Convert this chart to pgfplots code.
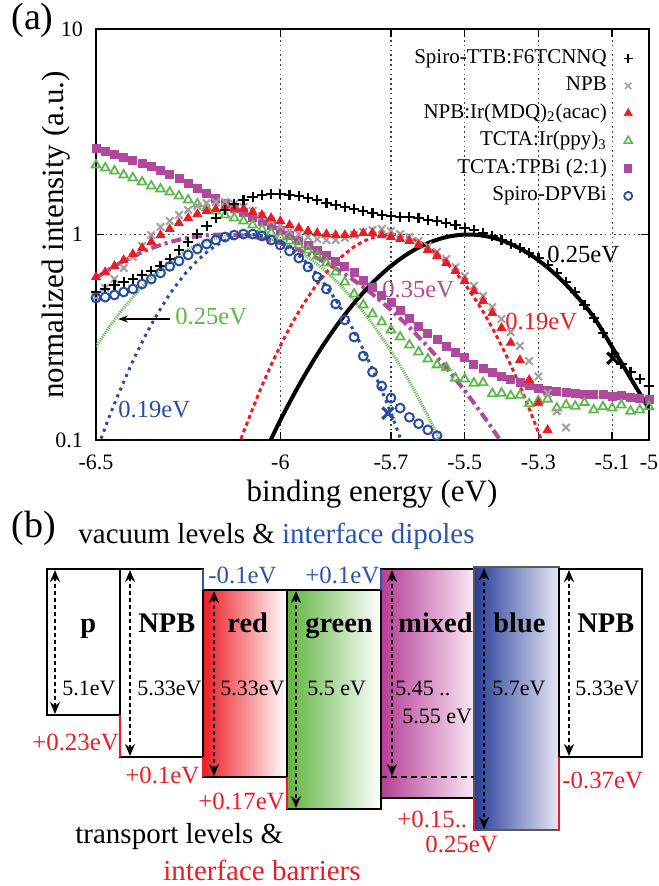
\documentclass[border=0pt]{standalone}
\usepackage{fontspec}
\setmainfont{Liberation Serif}
\usepackage{pgfplots}
\pgfplotsset{compat=1.18}
\usetikzlibrary{arrows.meta}
\definecolor{cred}{RGB}{237,28,36}
\definecolor{cgreen}{RGB}{92,184,72}
\definecolor{cpurple}{RGB}{176,72,158}
\definecolor{cblue}{RGB}{40,76,160}
\definecolor{cgray}{RGB}{160,160,160}
\definecolor{ctblue}{RGB}{43,85,170}
\definecolor{bgreen}{RGB}{96,180,64}
\definecolor{bpurple}{RGB}{180,62,150}
\definecolor{bpurpleR}{RGB}{250,232,245}
\definecolor{bblue}{RGB}{38,60,150}
\definecolor{bblueR}{RGB}{232,232,246}
\newcommand{\fs}[1]{\fontsize{#1}{#1}\selectfont}
\begin{document}
\begin{tikzpicture}
\useasboundingbox (0,0) rectangle (329pt,443pt);
\begin{axis}[
  at={(48pt,223pt)}, anchor=south west,
  scale only axis, width=276.5pt, height=205.5pt,
  xmin=-6.5, xmax=-5, ymin=0.1, ymax=10, ymode=log,
  xtick={-6.5,-6,-5.7,-5.5,-5.3,-5.1,-5},
  xticklabels={-6.5,-6,-5.7,-5.5,-5.3,-5.1,-5},
  ytick={0.1,1,10}, yticklabels={0.1,1,10},
  yminorticks=false,
  tick label style={font=\fs{11}},
  xticklabel style={yshift=-4pt},
  yticklabel style={xshift=-3pt},
  axis line style={line width=1.2pt},
  major tick style={line width=0.8pt, black},
  tick align=inside, major tick length=4pt,
  grid=major, major grid style={dash pattern=on 0.8pt off 1.6pt, line width=0.6pt, black!75},
  legend style={draw=none, fill=none, at={(1,1)}, anchor=north east, xshift=-8pt, yshift=-9pt,
    inner sep=0pt, font=\fs{10.5}, row sep=2.75pt, column sep=8pt,
    nodes={inner sep=0.5pt, text height=7.5pt, text depth=2.5pt}},
  legend cell align=right, legend plot pos=right,
  legend image code/.code={\draw[#1] plot coordinates {(0.25cm,0cm)};},
]
% purple data
\addplot[only marks, mark=square*, mark size=2pt, cpurple, forget plot] coordinates {
(-6.5,2.636)(-6.475,2.549)(-6.45,2.465)(-6.425,2.383)(-6.4,2.304)(-6.375,2.228)(-6.35,2.154)(-6.325,2.060)(-6.3,1.970)(-6.275,1.884)(-6.25,1.781)(-6.225,1.684)(-6.2,1.592)(-6.175,1.505)(-6.15,1.423)(-6.125,1.346)(-6.1,1.287)(-6.075,1.217)(-6.05,1.163)(-6.025,1.112)(-6.0,1.052)(-5.975,0.994)(-5.95,0.940)(-5.925,0.889)(-5.9,0.841)(-5.875,0.795)(-5.85,0.743)(-5.825,0.700)(-5.8,0.653)(-5.775,0.600)(-5.75,0.555)(-5.725,0.508)(-5.7,0.467)(-5.675,0.427)(-5.65,0.392)(-5.625,0.359)(-5.6,0.332)(-5.575,0.307)(-5.55,0.287)(-5.525,0.268)(-5.5,0.251)(-5.475,0.234)(-5.45,0.224)(-5.425,0.214)(-5.4,0.205)(-5.375,0.198)(-5.35,0.1915)(-5.325,0.185)(-5.3,0.179)(-5.275,0.175)(-5.25,0.173)(-5.225,0.171)(-5.2,0.169)(-5.175,0.1675)(-5.15,0.166)(-5.125,0.166)(-5.1,0.1637)(-5.075,0.164)(-5.05,0.162)(-5.025,0.160)(-5.0,0.158)};
% green data
\addplot[only marks, mark=triangle, mark size=2.5pt, line width=0.9pt, cgreen, forget plot] coordinates {
(-6.5,2.179)(-6.475,2.106)(-6.45,2.037)(-6.425,1.948)(-6.4,1.885)(-6.375,1.801)(-6.35,1.722)(-6.325,1.664)(-6.3,1.608)(-6.275,1.539)(-6.25,1.472)(-6.225,1.407)(-6.2,1.346)(-6.175,1.301)(-6.15,1.244)(-6.125,1.203)(-6.1,1.163)(-6.075,1.112)(-6.05,1.063)(-6.025,1.017)(-6.0,0.972)(-5.975,0.930)(-5.95,0.889)(-5.925,0.841)(-5.9,0.786)(-5.875,0.727)(-5.85,0.657)(-5.825,0.587)(-5.8,0.513)(-5.775,0.454)(-5.75,0.410)(-5.725,0.375)(-5.7,0.343)(-5.675,0.317)(-5.65,0.290)(-5.625,0.268)(-5.6,0.248)(-5.575,0.232)(-5.55,0.225)(-5.525,0.200)(-5.5,0.198)(-5.475,0.189)(-5.45,0.190)(-5.425,0.168)(-5.4,0.169)(-5.375,0.164)(-5.35,0.165)(-5.325,0.150)(-5.3,0.155)(-5.275,0.158)(-5.25,0.143)(-5.225,0.148)(-5.2,0.146)(-5.175,0.152)(-5.15,0.140)(-5.125,0.145)(-5.1,0.143)(-5.075,0.148)(-5.05,0.138)(-5.025,0.140)(-5.0,0.145)};
% gray data
\addplot[only marks, mark=x, mark size=2.6pt, line width=1pt, cgray, forget plot] coordinates {
(-6.5,0.497)(-6.475,0.549)(-6.45,0.607)(-6.425,0.687)(-6.4,0.777)(-6.375,0.879)(-6.35,0.994)(-6.325,1.087)(-6.3,1.163)(-6.275,1.244)(-6.25,1.316)(-6.225,1.376)(-6.2,1.423)(-6.175,1.439)(-6.15,1.439)(-6.125,1.407)(-6.1,1.361)(-6.075,1.301)(-6.05,1.230)(-6.025,1.163)(-6.0,1.10)(-5.975,1.040)(-5.95,1.005)(-5.925,0.972)(-5.9,0.951)(-5.875,0.940)(-5.85,0.940)(-5.825,0.962)(-5.8,0.994)(-5.775,1.028)(-5.75,1.052)(-5.725,1.063)(-5.7,1.040)(-5.675,1.005)(-5.65,0.972)(-5.625,0.930)(-5.6,0.879)(-5.575,0.824)(-5.55,0.760)(-5.525,0.694)(-5.5,0.628)(-5.475,0.562)(-5.45,0.502)(-5.425,0.443)(-5.4,0.388)(-5.375,0.335)(-5.35,0.287)(-5.325,0.242)(-5.3,0.204)(-5.275,0.169)(-5.25,0.138)(-5.225,0.115)(-5.2,0.098)};
% red data
\addplot[only marks, mark=triangle*, mark size=2.5pt, cred, forget plot] coordinates {
(-6.5,0.621)(-6.475,0.656)(-6.45,0.703)(-6.425,0.751)(-6.4,0.803)(-6.375,0.860)(-6.35,0.920)(-6.325,0.994)(-6.3,1.063)(-6.275,1.137)(-6.25,1.203)(-6.225,1.258)(-6.2,1.301)(-6.175,1.331)(-6.15,1.346)(-6.125,1.346)(-6.1,1.331)(-6.075,1.287)(-6.05,1.244)(-6.025,1.203)(-6.0,1.163)(-5.975,1.112)(-5.95,1.075)(-5.925,1.040)(-5.9,1.017)(-5.875,1.005)(-5.85,0.994)(-5.825,0.994)(-5.8,1.005)(-5.775,1.017)(-5.75,1.017)(-5.725,0.994)(-5.7,0.972)(-5.675,0.951)(-5.65,0.930)(-5.625,0.889)(-5.6,0.841)(-5.575,0.786)(-5.55,0.727)(-5.525,0.665)(-5.5,0.594)(-5.475,0.531)(-5.45,0.474)(-5.425,0.415)(-5.4,0.351)(-5.375,0.297)(-5.35,0.245)(-5.325,0.196)(-5.3,0.151)(-5.275,0.112)};
% black data
\addplot[only marks, mark=+, mark size=2.6pt, line width=1.1pt, black, forget plot] coordinates {
(-6.5,0.525)(-6.475,0.543)(-6.45,0.568)(-6.425,0.587)(-6.4,0.607)(-6.375,0.635)(-6.35,0.665)(-6.325,0.703)(-6.3,0.760)(-6.275,0.841)(-6.25,0.920)(-6.225,1.005)(-6.2,1.10)(-6.175,1.203)(-6.15,1.316)(-6.125,1.407)(-6.1,1.472)(-6.075,1.522)(-6.05,1.556)(-6.025,1.574)(-6.0,1.574)(-5.975,1.556)(-5.95,1.539)(-5.925,1.505)(-5.9,1.472)(-5.875,1.423)(-5.85,1.392)(-5.825,1.361)(-5.8,1.331)(-5.775,1.301)(-5.75,1.272)(-5.725,1.244)(-5.7,1.230)(-5.675,1.216)(-5.65,1.216)(-5.625,1.203)(-5.6,1.176)(-5.575,1.163)(-5.55,1.137)(-5.525,1.112)(-5.5,1.075)(-5.475,1.052)(-5.45,1.017)(-5.425,0.983)(-5.4,0.940)(-5.375,0.899)(-5.35,0.860)(-5.325,0.813)(-5.3,0.769)(-5.275,0.711)(-5.25,0.648)(-5.225,0.587)(-5.2,0.525)(-5.175,0.454)(-5.15,0.392)(-5.125,0.331)(-5.1,0.262)(-5.075,0.234)(-5.05,0.214)(-5.025,0.198)(-5.0,0.183)};
% blue data
\addplot[only marks, mark=o, mark size=2.2pt, line width=1pt, cblue, forget plot] coordinates {
(-6.5,0.491)(-6.475,0.496)(-6.45,0.508)(-6.425,0.525)(-6.4,0.543)(-6.375,0.574)(-6.35,0.607)(-6.325,0.650)(-6.3,0.700)(-6.275,0.743)(-6.25,0.795)(-6.225,0.850)(-6.2,0.899)(-6.175,0.940)(-6.15,0.972)(-6.125,0.994)(-6.1,1.005)(-6.075,1.005)(-6.05,0.983)(-6.025,0.940)(-6.0,0.889)(-5.975,0.831)(-5.95,0.768)(-5.925,0.695)(-5.9,0.621)(-5.875,0.543)(-5.85,0.459)(-5.825,0.384)(-5.8,0.317)(-5.775,0.256)(-5.75,0.214)(-5.725,0.183)(-5.7,0.160)(-5.675,0.143)(-5.65,0.129)(-5.625,0.120)(-5.6,0.112)(-5.575,0.105)};
% fits
\addplot[cgreen, line width=1.5pt, dash pattern=on 0.5pt off 0.6pt, smooth, forget plot] coordinates {
(-6.5,0.285)(-6.45,0.3837)(-6.4,0.496)(-6.35,0.616)(-6.3,0.7354)(-6.25,0.8432)(-6.2,0.929)(-6.15,0.983)(-6.1,1.0)(-6.05,0.977)(-6.0,0.917)(-5.95,0.8272)(-5.9,0.7168)(-5.85,0.5969)(-5.8,0.4775)(-5.75,0.367)(-5.7,0.271)(-5.65,0.1923)(-5.6,0.131)(-5.55,0.0858)};
\addplot[cpurple, line width=2pt, dash pattern=on 5pt off 2pt on 1.5pt off 2pt, smooth, forget plot] coordinates {
(-6.5,0.6152)(-6.45,0.701)(-6.4,0.7827)(-6.35,0.8563)(-6.3,0.9178)(-6.25,0.9638)(-6.2,0.9918)(-6.15,1.0)(-6.1,0.9877)(-6.05,0.956)(-6.0,0.9066)(-5.95,0.8424)(-5.9,0.7669)(-5.85,0.684)(-5.8,0.5979)(-5.75,0.512)(-5.7,0.4296)(-5.65,0.3531)(-5.6,0.2845)(-5.55,0.2245)(-5.5,0.1736)(-5.45,0.1315)(-5.4,0.0976)};
\addplot[cblue, line width=1.5pt, dash pattern=on 1.5pt off 2.2pt, smooth, forget plot] coordinates {
(-6.5,0.0869)(-6.48,0.109)(-6.45,0.150)(-6.4,0.242)(-6.35,0.3643)(-6.3,0.5116)(-6.25,0.670)(-6.2,0.8192)(-6.15,0.9344)(-6.1,0.9945)(-6.08,1.0)(-6.05,0.9876)(-6.0,0.9152)(-5.95,0.7913)(-5.9,0.6384)(-5.85,0.4806)(-5.8,0.3376)(-5.75,0.2213)(-5.7,0.1353)(-5.65,0.0772)};
\addplot[cred, line width=1.5pt, dash pattern=on 2pt off 1.6pt, smooth, forget plot] coordinates {
(-6.12,0.0869)(-6.1,0.109)(-6.05,0.1833)(-6.0,0.2875)(-5.95,0.4208)(-5.9,0.5747)(-5.85,0.7323)(-5.8,0.8707)(-5.75,0.966)(-5.7,1.0)(-5.65,0.966)(-5.6,0.8707)(-5.55,0.7323)(-5.5,0.5747)(-5.45,0.4208)(-5.4,0.2875)(-5.35,0.1833)(-5.3,0.109)(-5.28,0.0869)};
\addplot[black, line width=2pt, smooth, forget plot] coordinates {
(-6.05,0.0814)(-6.0,0.1248)(-5.95,0.184)(-5.9,0.2606)(-5.85,0.3546)(-5.8,0.4636)(-5.75,0.5822)(-5.7,0.7026)(-5.65,0.8147)(-5.6,0.9077)(-5.55,0.9716)(-5.5,0.9992)(-5.45,0.9873)(-5.4,0.9373)(-5.35,0.8549)(-5.3,0.7492)(-5.25,0.6308)(-5.2,0.5103)(-5.15,0.3966)(-5.1,0.283)(-5.05,0.200)(-5.0,0.142)};
% onset markers
\addplot[only marks, mark=x, mark size=4pt, line width=1.6pt, black, forget plot] coordinates {(-5.098,0.25)};
\addplot[only marks, mark=x, mark size=4pt, line width=1.6pt, cblue, forget plot] coordinates {(-5.708,0.135)};
% legend
\addlegendimage{only marks, mark=+, mark size=2.2pt, line width=0.8pt, black}
\addlegendentry{Spiro-TTB:F6TCNNQ}
\addlegendimage{only marks, mark=x, mark size=2.2pt, line width=0.8pt, cgray}
\addlegendentry{NPB}
\addlegendimage{only marks, mark=triangle*, mark size=2.3pt, cred}
\addlegendentry{NPB:Ir(MDQ)\textsubscript{2}(acac)}
\addlegendimage{only marks, mark=triangle, mark size=2.3pt, line width=0.8pt, cgreen}
\addlegendentry{TCTA:Ir(ppy)\textsubscript{3}}
\addlegendimage{only marks, mark=square*, mark size=1.8pt, cpurple}
\addlegendentry{TCTA:TPBi (2:1)}
\addlegendimage{only marks, mark=o, mark size=2pt, line width=0.9pt, cblue}
\addlegendentry{Spiro-DPVBi}
\end{axis}
% canvas in pixel coordinates
\begin{axis}[at={(0pt,0pt)}, anchor=south west, scale only axis, width=329pt, height=443pt,
  xmin=0, xmax=658, ymin=0, ymax=886, y dir=reverse, hide axis, clip=false]
% part (a) annotations
\node[anchor=base west, inner sep=0] at (axis cs:11,30) {\fs{19}(a)};
\node[anchor=base, rotate=90, inner sep=0] at (axis cs:63,235) {\fs{15.5}normalized intensity (a.u.)};
\node[anchor=base, inner sep=0] at (axis cs:372,501) {\fs{15.5}binding energy (eV)};
\node[anchor=base west, inner sep=0] at (axis cs:547,263) {\fs{12.3}0.25eV};
\node[anchor=base west, inner sep=0, text=cpurple] at (axis cs:382,298) {\fs{12.3}0.35eV};
\node[anchor=base west, inner sep=0, text=cred] at (axis cs:505,330) {\fs{12.3}0.19eV};
\node[anchor=base west, inner sep=0, text=cblue] at (axis cs:118,417) {\fs{12.3}0.19eV};
\node[anchor=base west, inner sep=0, text=cgreen] at (axis cs:175,325) {\fs{12.3}0.25eV};
\addplot[black, line width=0.8pt, -{Stealth[length=5pt,width=3.5pt]}] coordinates {(170,319)(118,319)};
% part (b)
\node[anchor=base west, inner sep=0] at (axis cs:11,537) {\fs{19}(b)};
\node[anchor=base west, inner sep=0] at (axis cs:78,543) {\fs{14.5}vacuum levels \& \textcolor{ctblue}{interface dipoles}};
\node[anchor=base west, inner sep=0] at (axis cs:75,843) {\fs{14.5}transport levels \&};
\node[anchor=base west, inner sep=0, text=cred] at (axis cs:163,880) {\fs{14.5}interface barriers};
% boxes
\addplot[draw=black, line width=1pt, fill=white] coordinates {(47,569)(120,569)(120,715)(47,715)} -- cycle;
\addplot[draw=black, line width=1pt, fill=white] coordinates {(120,569)(203,569)(203,757)(120,757)} -- cycle;
\addplot[draw=black, line width=1pt, left color=cred, right color=white] coordinates {(203,590)(287,590)(287,777)(203,777)} -- cycle;
\addplot[draw=black, line width=1pt, left color=bgreen, right color=white] coordinates {(287,590)(381,590)(381,809)(287,809)} -- cycle;
\addplot[draw=black, line width=1pt, left color=bpurple, right color=bpurpleR] coordinates {(381,569)(474,569)(474,798)(381,798)} -- cycle;
\addplot[draw=black!65, line width=1pt, left color=bblue, right color=bblueR] coordinates {(474,567)(559,567)(559,830)(474,830)} -- cycle;
\addplot[draw=black, line width=1pt, fill=white] coordinates {(559,569)(642,569)(642,757)(559,757)} -- cycle;
% barriers and dipoles
\addplot[cred, line width=1pt] coordinates {(120,715)(120,757)};
\addplot[cred, line width=1pt] coordinates {(203,757)(203,777)};
\addplot[cred, line width=1pt] coordinates {(287,777)(287,809)};
\addplot[cred, line width=1pt] coordinates {(474,798)(474,830)};
\addplot[cred, line width=1pt] coordinates {(559,757)(559,830)};
\addplot[ctblue, line width=1pt] coordinates {(203,569)(203,590)};
\addplot[ctblue, line width=1pt] coordinates {(381,569)(381,590)};
% dashed arrows
\pgfplotsset{darrow/.style={black, line width=0.9pt, dash pattern=on 2pt off 1.5pt, {Stealth[length=6pt,width=5pt]}-{Stealth[length=6pt,width=5pt]}}}
\addplot[darrow] coordinates {(55,570)(55,714)};
\addplot[darrow] coordinates {(130,570)(130,756)};
\addplot[darrow] coordinates {(214,591)(214,776)};
\addplot[darrow] coordinates {(296,591)(296,808)};
\addplot[darrow] coordinates {(392,570)(392,776)};
\addplot[darrow, line width=1.3pt] coordinates {(484,568)(484,829)};
\addplot[darrow] coordinates {(569,570)(569,756)};
\addplot[black, line width=0.9pt, dash pattern=on 3pt off 2pt] coordinates {(381,777)(474,777)};
% box labels
\node[anchor=base west, inner sep=0] at (axis cs:80,632) {\fs{14.2}\bfseries p};
\node[anchor=base west, inner sep=0] at (axis cs:138,632) {\fs{14.2}\bfseries NPB};
\node[anchor=base west, inner sep=0] at (axis cs:227,632) {\fs{14.2}\bfseries red};
\node[anchor=base west, inner sep=0] at (axis cs:305,632) {\fs{14.2}\bfseries green};
\node[anchor=base west, inner sep=0] at (axis cs:398,632) {\fs{14.2}\bfseries mixed};
\node[anchor=base west, inner sep=0] at (axis cs:493,632) {\fs{14.2}\bfseries blue};
\node[anchor=base west, inner sep=0] at (axis cs:577,632) {\fs{14.2}\bfseries NPB};
% energies
\node[anchor=base west, inner sep=0] at (axis cs:62,695) {\fs{11}5.1eV};
\node[anchor=base west, inner sep=0] at (axis cs:137,695) {\fs{11}5.33eV};
\node[anchor=base west, inner sep=0] at (axis cs:220,695) {\fs{11}5.33eV};
\node[anchor=base west, inner sep=0] at (axis cs:307,695) {\fs{11}5.5 eV};
\node[anchor=base west, inner sep=0] at (axis cs:395,695) {\fs{11}5.45 ..};
\node[anchor=base west, inner sep=0] at (axis cs:402,723) {\fs{11}5.55 eV};
\node[anchor=base west, inner sep=0] at (axis cs:492,695) {\fs{11}5.7eV};
\node[anchor=base west, inner sep=0] at (axis cs:575,695) {\fs{11}5.33eV};
% offsets
\node[anchor=base west, inner sep=0, text=ctblue] at (axis cs:208,583) {\fs{12.4}-0.1eV};
\node[anchor=base west, inner sep=0, text=ctblue] at (axis cs:305,583) {\fs{12.4}+0.1eV};
\node[anchor=base west, inner sep=0, text=cred] at (axis cs:32,750) {\fs{12.4}+0.23eV};
\node[anchor=base west, inner sep=0, text=cred] at (axis cs:125,783) {\fs{12.4}+0.1eV};
\node[anchor=base west, inner sep=0, text=cred] at (axis cs:198,809) {\fs{12.4}+0.17eV};
\node[anchor=base west, inner sep=0, text=cred] at (axis cs:397,827) {\fs{12.4}+0.15..};
\node[anchor=base west, inner sep=0, text=cred] at (axis cs:425,852) {\fs{12.4}0.25eV};
\node[anchor=base west, inner sep=0, text=cred] at (axis cs:562,788) {\fs{12.4}-0.37eV};
\end{axis}
\end{tikzpicture}
\end{document}
